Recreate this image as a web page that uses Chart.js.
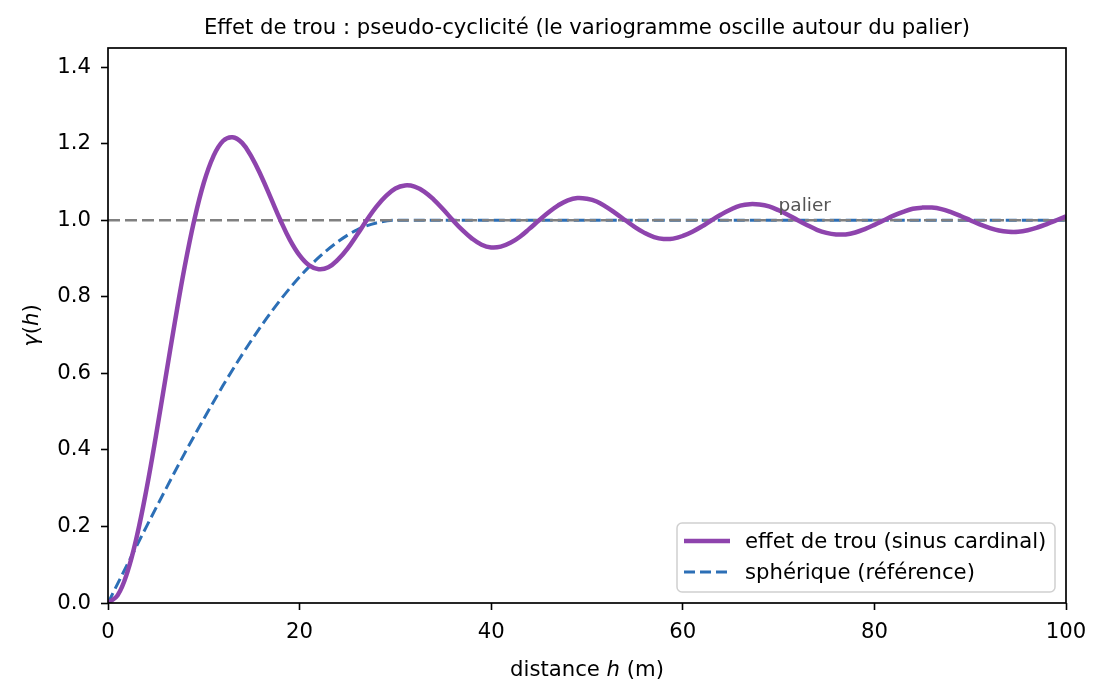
<!DOCTYPE html>
<html>
<head>
<meta charset="utf-8">
<title>Effet de trou</title>
<script src="https://cdn.jsdelivr.net/npm/chart.js@4.4.1/dist/chart.umd.min.js"></script>
<style>
  html, body { margin: 0; padding: 0; background: #ffffff; }
  #wrap { width: 1105px; height: 696px; }
</style>
</head>
<body>
<div id="wrap"><canvas id="myChart" width="1105" height="696"></canvas></div>
<script>
// distances (m) et valeurs
const distance = [
    0, 1, 2, 3, 4, 5, 6, 7, 8, 9,
    10, 11, 12, 13, 14, 15, 16, 17, 18, 19,
    20, 21, 22, 23, 24, 25, 26, 27, 28, 29,
    30, 31, 32, 33, 34, 35, 36, 37, 38, 39,
    40, 41, 42, 43, 44, 45, 46, 47, 48, 49,
    50, 51, 52, 53, 54, 55, 56, 57, 58, 59,
    60, 61, 62, 63, 64, 65, 66, 67, 68, 69,
    70, 71, 72, 73, 74, 75, 76, 77, 78, 79,
    80, 81, 82, 83, 84, 85, 86, 87, 88, 89,
    90, 91, 92, 93, 94, 95, 96, 97, 98, 99,
    100
];
const effetDeTrou = [
    0.000, 0.020, 0.079, 0.173, 0.295, 0.436, 0.587, 0.737, 0.878, 1.000,
    1.098, 1.167, 1.207, 1.217, 1.202, 1.165, 1.115, 1.058, 1.000, 0.948,
    0.908, 0.882, 0.872, 0.877, 0.897, 0.926, 0.962, 1.000, 1.035, 1.063,
    1.083, 1.091, 1.088, 1.075, 1.054, 1.028, 1.000, 0.974, 0.952, 0.936,
    0.929, 0.931, 0.941, 0.957, 0.978, 1.000, 1.021, 1.039, 1.052, 1.058,
    1.056, 1.049, 1.035, 1.018, 1.000, 0.982, 0.967, 0.956, 0.951, 0.952,
    0.959, 0.970, 0.984, 1.000, 1.015, 1.028, 1.038, 1.042, 1.041, 1.036,
    1.026, 1.014, 1.000, 0.987, 0.975, 0.967, 0.963, 0.963, 0.968, 0.977,
    0.988, 1.000, 1.012, 1.022, 1.030, 1.033, 1.033, 1.029, 1.021, 1.011,
    1.000, 0.989, 0.980, 0.973, 0.970, 0.970, 0.974, 0.981, 0.990, 1.000,
    1.010
];
const distanceSpherique = [0, 2, 4, 6, 8, 10, 12, 14, 16, 18, 20, 22, 24, 26, 28, 30, 100];
const spherique = [0.000, 0.100, 0.199, 0.296, 0.391, 0.481, 0.568, 0.649, 0.724, 0.792,
                   0.852, 0.903, 0.944, 0.975, 0.993, 1.000, 1.000];
const palierX = [0, 100];
const palierY = [1, 1];
const xTicks = [0, 20, 40, 60, 80, 100];
const yTicks = [0, 0.2, 0.4, 0.6, 0.8, 1.0, 1.2, 1.4];

const FONT = 'DejaVu Sans';
const SIZE = 21.2;
const TITLE = 'Effet de trou : pseudo-cyclicité (le variogramme oscille autour du palier)';

function toPoints(xs, ys) {
    return xs.map((x, i) => ({ x: x, y: ys[i] }));
}

// texte avec morceaux en italique (h, gamma)
function drawMixedText(ctx, parts, size) {
    let total = 0;
    parts.forEach(p => {
        ctx.font = (p.italic ? 'italic ' : '') + size + 'px "' + FONT + '"';
        p.w = ctx.measureText(p.text).width;
        total += p.w;
    });
    let x = -total / 2;
    parts.forEach(p => {
        ctx.font = (p.italic ? 'italic ' : '') + size + 'px "' + FONT + '"';
        ctx.fillText(p.text, x, 0);
        x += p.w;
    });
}

// titre centré sur la zone du graphique (comme matplotlib)
const chartTitle = {
    id: 'chartTitle',
    afterDraw(chart) {
        const ctx = chart.ctx;
        const area = chart.chartArea;
        ctx.save();
        ctx.font = SIZE + 'px "' + FONT + '"';
        ctx.fillStyle = '#000';
        ctx.textAlign = 'center';
        ctx.textBaseline = 'alphabetic';
        ctx.fillText(TITLE, (area.left + area.right) / 2, 34);
        ctx.restore();
    }
};

const axisTitles = {
    id: 'axisTitles',
    afterDraw(chart) {
        const ctx = chart.ctx;
        const area = chart.chartArea;
        ctx.save();
        ctx.fillStyle = '#000';
        ctx.textAlign = 'left';
        ctx.textBaseline = 'alphabetic';
        ctx.translate((area.left + area.right) / 2, 676);
        drawMixedText(ctx, [
            { text: 'distance ' }, { text: 'h', italic: true }, { text: ' (m)' }
        ], SIZE);
        ctx.restore();

        ctx.save();
        ctx.fillStyle = '#000';
        ctx.textAlign = 'left';
        ctx.textBaseline = 'alphabetic';
        ctx.translate(38, (area.top + area.bottom) / 2);
        ctx.rotate(-Math.PI / 2);
        drawMixedText(ctx, [
            { text: 'γ', italic: true }, { text: '(' }, { text: 'h', italic: true }, { text: ')' }
        ], SIZE);
        ctx.restore();
    }
};

const palierLabel = {
    id: 'palierLabel',
    afterDatasetsDraw(chart) {
        const ctx = chart.ctx;
        const xs = chart.scales.x, ys = chart.scales.y;
        ctx.save();
        ctx.font = '18.5px "' + FONT + '"';
        ctx.fillStyle = '#555555';
        ctx.textAlign = 'left';
        ctx.textBaseline = 'alphabetic';
        ctx.fillText('palier', xs.getPixelForValue(70), ys.getPixelForValue(1.025));
        ctx.restore();
    }
};

const frame = {
    id: 'frame',
    afterDatasetsDraw(chart) {
        const ctx = chart.ctx;
        const a = chart.chartArea;
        ctx.save();
        ctx.strokeStyle = '#000';
        ctx.lineWidth = 1.7;
        ctx.strokeRect(a.left, a.top, a.right - a.left, a.bottom - a.top);
        ctx.restore();
    }
};

const legendBox = {
    id: 'legendBox',
    afterDraw(chart) {
        const ctx = chart.ctx;
        const shown = chart.data.datasets.filter(d => d.inLegend);
        const box = { x: 677, y: 523, w: 378, h: 69 };
        ctx.save();
        ctx.beginPath();
        ctx.roundRect(box.x, box.y, box.w, box.h, 5);
        ctx.fillStyle = 'rgba(255,255,255,0.8)';
        ctx.fill();
        ctx.strokeStyle = '#d0d0d0';
        ctx.lineWidth = 1.5;
        ctx.stroke();
        shown.forEach((d, i) => {
            const y = 541 + i * 31;
            ctx.beginPath();
            ctx.setLineDash(d.borderDash || []);
            ctx.strokeStyle = d.borderColor;
            ctx.lineWidth = d.borderWidth;
            ctx.moveTo(684, y);
            ctx.lineTo(730, y);
            ctx.stroke();
            ctx.setLineDash([]);
            ctx.fillStyle = '#000';
            ctx.font = SIZE + 'px "' + FONT + '"';
            ctx.textAlign = 'left';
            ctx.textBaseline = 'middle';
            ctx.fillText(d.label, 745, y + 1);
        });
        ctx.restore();
    }
};

function createChart() {
    const ctx = document.getElementById('myChart').getContext('2d');
    return new Chart(ctx, {
        type: 'line',
        data: {
            datasets: [
                {
                    label: 'effet de trou (sinus cardinal)',
                    data: toPoints(distance, effetDeTrou),
                    borderColor: '#8e44ad',
                    borderWidth: 4.5,
                    pointRadius: 0,
                    tension: 0.4,
                    inLegend: true
                },
                {
                    label: 'palier',
                    data: toPoints(palierX, palierY),
                    borderColor: '#808080',
                    borderWidth: 2.4,
                    borderDash: [12, 5],
                    pointRadius: 0,
                    tension: 0,
                    inLegend: false
                },
                {
                    label: 'sphérique (référence)',
                    data: toPoints(distanceSpherique, spherique),
                    borderColor: '#2c6fb6',
                    borderWidth: 3,
                    borderDash: [11, 5],
                    pointRadius: 0,
                    cubicInterpolationMode: 'monotone',
                    inLegend: true
                }
            ]
        },
        options: {
            responsive: false,
            animation: false,
            devicePixelRatio: 1,
            layout: { padding: { left: 0, right: 39, top: 48, bottom: 0 } },
            plugins: {
                legend: { display: false },
                tooltip: { enabled: false },
                title: { display: false }
            },
            scales: {
                x: {
                    type: 'linear',
                    min: 0,
                    max: 100,
                    afterFit: s => { s.height = 93; },
                    afterBuildTicks: s => { s.ticks = xTicks.map(v => ({ value: v })); },
                    border: { display: false },
                    grid: { drawOnChartArea: false, drawTicks: true, tickLength: 7, tickWidth: 1.6, tickColor: '#000' },
                    ticks: {
                        color: '#000',
                        padding: 10,
                        maxRotation: 0,
                        font: { family: FONT, size: SIZE },
                        callback: v => String(v)
                    }
                },
                y: {
                    type: 'linear',
                    min: 0,
                    max: 1.45,
                    afterFit: s => { s.width = 108; },
                    afterBuildTicks: s => { s.ticks = yTicks.map(v => ({ value: v })); },
                    border: { display: false },
                    grid: { drawOnChartArea: false, drawTicks: true, tickLength: 7, tickWidth: 1.6, tickColor: '#000' },
                    ticks: {
                        color: '#000',
                        padding: 10,
                        font: { family: FONT, size: SIZE },
                        callback: v => Number(v).toFixed(1)
                    }
                }
            }
        },
        plugins: [palierLabel, frame, chartTitle, axisTitles, legendBox]
    });
}

var myChart = createChart();
console.log('Chart drawn', myChart.chartArea);
</script>
</body>
</html>
